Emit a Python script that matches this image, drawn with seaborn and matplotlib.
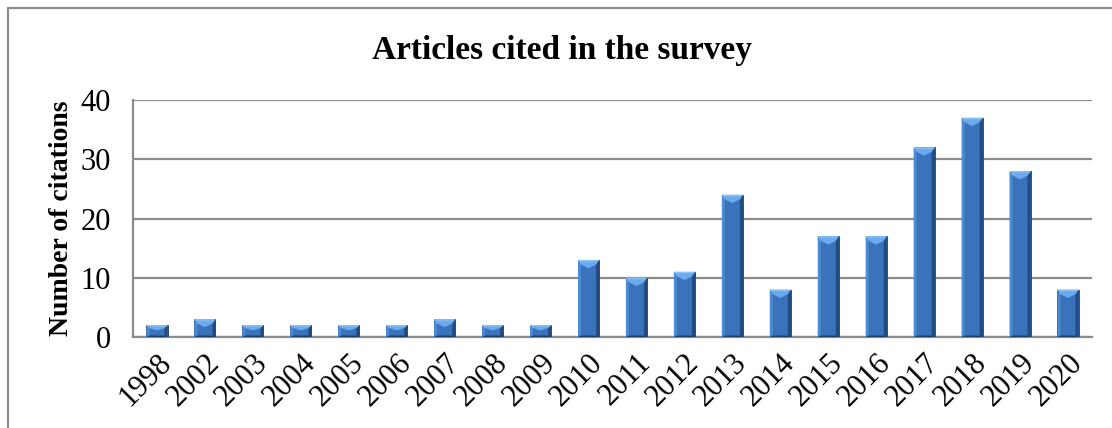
import numpy as np
import pandas as pd
import matplotlib
matplotlib.use('Agg')
import matplotlib.pyplot as plt
import seaborn as sns
from matplotlib.patches import Polygon
from matplotlib.lines import Line2D

years = ['1998', '2002', '2003', '2004', '2005', '2006', '2007', '2008', '2009', '2010',
         '2011', '2012', '2013', '2014', '2015', '2016', '2017', '2018', '2019', '2020']
citations = [2, 3, 2, 2, 2, 2, 3, 2, 2, 13, 10, 11, 24, 8, 17, 17, 32, 37, 28, 8]
y_ticks = [0, 10, 20, 30, 40]

df = pd.DataFrame({'Year': years, 'Citations': citations})

sns.set_style('white')
plt.rcParams['font.family'] = ['Liberation Serif', 'DejaVu Serif']
plt.rcParams['text.color'] = 'black'

fig = plt.figure(figsize=(11.12, 4.28), dpi=100)
ax = fig.add_axes([133/1112, 1-337/428, (1092-133)/1112, (337-100)/428])

sns.barplot(data=df, x='Year', y='Citations', color='#3a72bb', width=0.44,
            saturation=1, edgecolor='#1c3f72', linewidth=0.6, ax=ax, zorder=3)

# bevel look on each bar
for p in ax.patches:
    x0 = p.get_x()
    w = p.get_width()
    h = p.get_height()
    x1 = x0 + w
    xc = x0 + w / 2
    top = h
    bev = w * 0.14
    # left light strip, right dark strip
    ax.add_patch(Polygon([(x0, 0), (x0 + bev, 0.25), (x0 + bev, top - 0.3), (x0, top)],
                         closed=True, fc='#4f8ad4', ec='none', zorder=4))
    ax.add_patch(Polygon([(x1, 0), (x1 - bev, 0.25), (x1 - bev, top - 0.3), (x1, top)],
                         closed=True, fc='#21497f', ec='none', zorder=4))
    ax.add_patch(Polygon([(x0, 0), (x1, 0), (x1 - bev, 0.25), (x0 + bev, 0.25)],
                         closed=True, fc='#1d3f6e', ec='none', zorder=4))
    cap = min(1.4, h * 0.45)
    ax.add_patch(Polygon([(x0, top), (x1, top), (x1 - bev, top - cap * 0.55),
                          (xc, top - cap), (x0 + bev, top - cap * 0.55)],
                         closed=True, fc='#6aaaee', ec='none', zorder=4))
    ax.add_patch(Polygon([(x0, top), (x1, top), (x1 - bev * 0.5, top - 0.25), (x0 + bev * 0.5, top - 0.25)],
                         closed=True, fc='#8cc2f6', ec='none', zorder=4))

ax.set_ylim(0, 40)
ax.set_xlim(-0.5, len(years) - 0.5)
ax.set_yticks(y_ticks)
ax.yaxis.grid(True, color='#8c8c8c', linewidth=1.6, zorder=0)
ax.set_axisbelow(True)
for s in ['top', 'right']:
    ax.spines[s].set_visible(False)
for s in ['left', 'bottom']:
    ax.spines[s].set_color('#8c8c8c')
    ax.spines[s].set_linewidth(1.6)
ax.tick_params(axis='x', length=0, labelsize=22, colors='black', pad=8)
ax.tick_params(axis='y', length=0, labelsize=22, colors='black', pad=16)
plt.setp(ax.get_xticklabels(), rotation=45, ha='right', rotation_mode='anchor')

ax.set_xlabel('')
ax.set_ylabel('Number of citations', fontsize=20, fontweight='bold', color='black')
ax.yaxis.set_label_coords(-0.062, 0.5)
fig.text(562/1112, 1-50/428, 'Articles cited in the survey', ha='center', va='center',
         fontsize=24, fontweight='bold', color='black')

# outer chart frame (cropped)
fig.add_artist(Line2D([8/1112, 8/1112], [0, 1-8/428], color='#8c8c8c', lw=1.6))
fig.add_artist(Line2D([8/1112, 1], [1-8/428, 1-8/428], color='#8c8c8c', lw=1.6))

fig.savefig('out.png', dpi=100)
